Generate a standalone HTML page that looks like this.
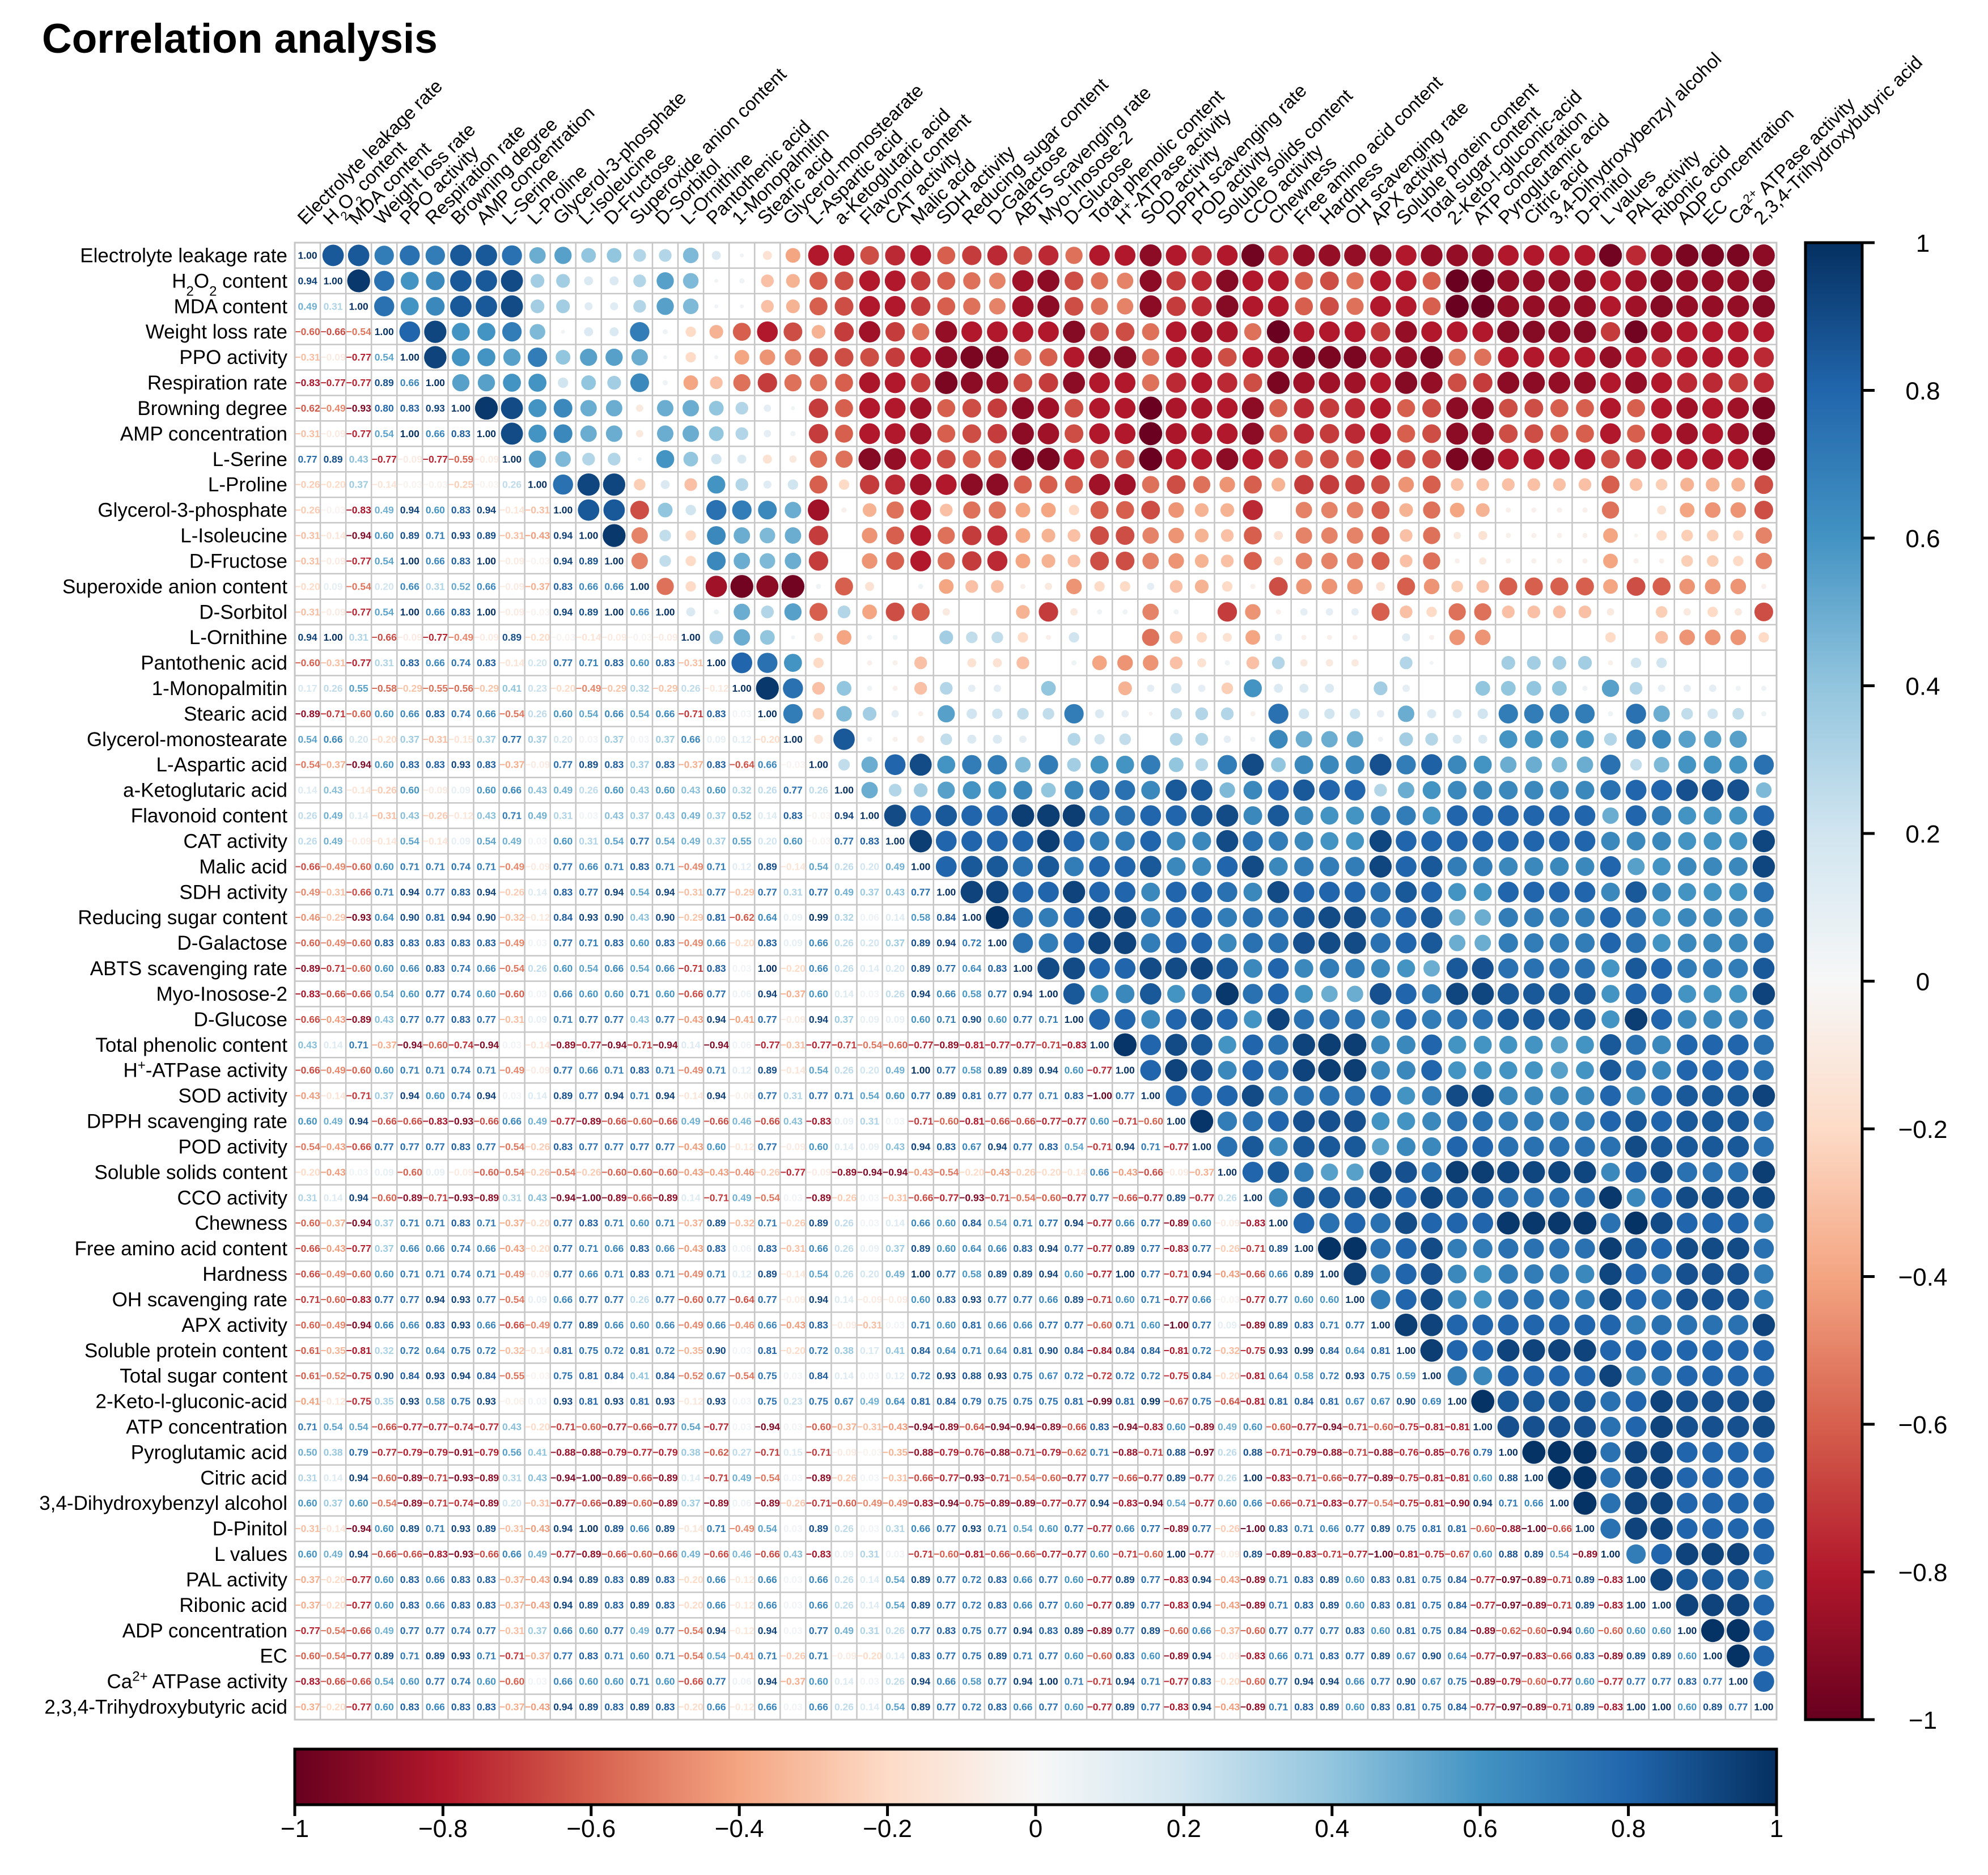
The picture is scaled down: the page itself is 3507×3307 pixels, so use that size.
<!DOCTYPE html>
<html><head><meta charset="utf-8"><title>Correlation analysis</title>
<style>
html,body{margin:0;padding:0;background:#fff;}
#wrap{position:relative;width:3507px;height:3307px;overflow:hidden;background:#fff;}
svg text{font-family:"Liberation Sans",Arial,sans-serif;}
</style></head>
<body>
<div id="wrap">
<svg id="chart" width="3507" height="3307" viewBox="0 0 3507 3307" xmlns="http://www.w3.org/2000/svg">
<defs>
<linearGradient id="gradV" x1="0" y1="1" x2="0" y2="0"></linearGradient>
<linearGradient id="gradH" x1="0" y1="0" x2="1" y2="0"></linearGradient>
</defs>
<text x="74" y="93" font-size="73" font-weight="bold" fill="#000">Correlation analysis</text>
<g id="grid"></g>
<g id="rowlabels"></g>
<g id="collabels"></g>
<g id="cbarV"></g>
<g id="cbarH"></g>
</svg>
</div>
<script>
const labels = ["Electrolyte leakage rate","H_2O_2 content","MDA content","Weight loss rate","PPO activity","Respiration rate","Browning degree","AMP concentration","L-Serine","L-Proline","Glycerol-3-phosphate","L-Isoleucine","D-Fructose","Superoxide anion content","D-Sorbitol","L-Ornithine","Pantothenic acid","1-Monopalmitin","Stearic acid","Glycerol-monostearate","L-Aspartic acid","a-Ketoglutaric acid","Flavonoid content","CAT activity","Malic acid","SDH activity","Reducing sugar content","D-Galactose","ABTS scavenging rate","Myo-Inosose-2","D-Glucose","Total phenolic content","H^+-ATPase activity","SOD activity","DPPH scavenging rate","POD activity","Soluble solids content","CCO activity","Chewness","Free amino acid content","Hardness","OH scavenging rate","APX activity","Soluble protein content","Total sugar content","2-Keto-l-gluconic-acid","ATP concentration","Pyroglutamic acid","Citric acid","3,4-Dihydroxybenzyl alcohol","D-Pinitol","L values","PAL activity","Ribonic acid","ADP concentration","EC","Ca^2+ ATPase activity","2,3,4-Trihydroxybutyric acid"];

const colorbarTicks = [-1,-0.8,-0.6,-0.4,-0.2,0,0.2,0.4,0.6,0.8,1];
const colorbarTickLabels = ["\u22121","\u22120.8","\u22120.6","\u22120.4","\u22120.2","0","0.2","0.4","0.6","0.8","1"];

/* printed coefficients, lower triangle: row i lists columns 1..i-1 */
const lowerValues = [
[],
[0.94],
[0.49,0.31],
[-0.60,-0.66,-0.54],
[-0.31,-0.09,-0.77,0.54],
[-0.83,-0.77,-0.77,0.89,0.66],
[-0.62,-0.49,-0.93,0.80,0.83,0.93],
[-0.31,-0.09,-0.77,0.54,1.00,0.66,0.83],
[0.77,0.89,0.43,-0.77,-0.09,-0.77,-0.59,-0.09],
[-0.26,-0.20,0.37,-0.14,-0.03,-0.03,-0.25,-0.03,0.26],
[-0.26,-0.03,-0.83,0.49,0.94,0.60,0.83,0.94,-0.14,-0.31],
[-0.31,-0.14,-0.94,0.60,0.89,0.71,0.93,0.89,-0.31,-0.43,0.94],
[-0.31,-0.09,-0.77,0.54,1.00,0.66,0.83,1.00,-0.09,-0.03,0.94,0.89],
[-0.20,0.09,-0.54,0.20,0.66,0.31,0.52,0.66,-0.09,-0.37,0.83,0.66,0.66],
[-0.31,-0.09,-0.77,0.54,1.00,0.66,0.83,1.00,-0.09,-0.03,0.94,0.89,1.00,0.66],
[0.94,1.00,0.31,-0.66,-0.09,-0.77,-0.49,-0.09,0.89,-0.20,-0.03,-0.14,-0.09,-0.03,-0.09],
[-0.60,-0.31,-0.77,0.31,0.83,0.66,0.74,0.83,-0.14,0.20,0.77,0.71,0.83,0.60,0.83,-0.31],
[0.17,0.26,0.55,-0.58,-0.29,-0.55,-0.56,-0.29,0.41,0.23,-0.20,-0.49,-0.29,0.32,-0.29,0.26,-0.12],
[-0.89,-0.71,-0.60,0.60,0.66,0.83,0.74,0.66,-0.54,0.26,0.60,0.54,0.66,0.54,0.66,-0.71,0.83,0.03],
[0.54,0.66,0.20,-0.20,0.37,-0.31,-0.15,0.37,0.77,0.37,0.20,0.03,0.37,0.03,0.37,0.66,0.09,0.12,-0.20],
[-0.54,-0.37,-0.94,0.60,0.83,0.83,0.93,0.83,-0.37,-0.09,0.77,0.89,0.83,0.37,0.83,-0.37,0.83,-0.64,0.66,-0.03],
[0.14,0.43,-0.14,-0.26,0.60,-0.09,0.09,0.60,0.66,0.43,0.49,0.26,0.60,0.43,0.60,0.43,0.60,0.32,0.26,0.77, 0.26],
[0.26,0.49,0.14,-0.31,0.43,-0.26,-0.12,0.43,0.71,0.49,0.31,0.03,0.43,0.37,0.43,0.49,0.37,0.52,0.14,0.83, -0.03,0.94],
[0.26,0.49,-0.09,-0.14,0.54,-0.14,0.09,0.54,0.49,0.03,0.60,0.31,0.54,0.77,0.54,0.49,0.37,0.55,0.20,0.60, -0.03,0.77,0.83],
[-0.66,-0.49,-0.60,0.60,0.71,0.71,0.74,0.71,-0.49,-0.09,0.77,0.66,0.71,0.83,0.71,-0.49,0.71,0.12,0.89,-0.14, 0.54,0.26,0.20,0.49],
[-0.49,-0.31,-0.66,0.71,0.94,0.77,0.83,0.94,-0.26,0.14,0.83,0.77,0.94,0.54,0.94,-0.31,0.77,-0.29,0.77,0.31, 0.77,0.49,0.37,0.43,0.77],
[-0.46,-0.29,-0.93,0.64,0.90,0.81,0.94,0.90,-0.32,-0.12,0.84,0.93,0.90,0.43,0.90,-0.29,0.81,-0.62,0.64,0.09, 0.99,0.32,0.06,0.14,0.58,0.84],
[-0.60,-0.49,-0.60,0.83,0.83,0.83,0.83,0.83,-0.49,0.03,0.77,0.71,0.83,0.60,0.83,-0.49,0.66,-0.20,0.83,0.09, 0.66,0.26,0.20,0.37,0.89,0.94,0.72],
[-0.89,-0.71,-0.60,0.60,0.66,0.83,0.74,0.66,-0.54,0.26,0.60,0.54,0.66,0.54,0.66,-0.71,0.83,0.03,1.00,-0.20, 0.66,0.26,0.14,0.20,0.89,0.77,0.64,0.83],
[-0.83,-0.66,-0.66,0.54,0.60,0.77,0.74,0.60,-0.60,0.03,0.66,0.60,0.60,0.71,0.60,-0.66,0.77,0.06,0.94,-0.37, 0.60,0.14,0.03,0.26,0.94,0.66,0.58,0.77,0.94],
[-0.66,-0.43,-0.89,0.43,0.77,0.77,0.83,0.77,-0.31,0.09,0.71,0.77,0.77,0.43,0.77,-0.43,0.94,-0.41,0.77,-0.09, 0.94,0.37,0.09,0.09,0.60,0.71,0.90,0.60,0.77,0.71],
[0.43,0.14,0.71,-0.37,-0.94,-0.60,-0.74,-0.94,0.03,-0.14,-0.89,-0.77,-0.94,-0.71,-0.94,0.14,-0.94,0.06,-0.77,-0.31, -0.77,-0.71,-0.54,-0.60,-0.77,-0.89,-0.81,-0.77,-0.77,-0.71,-0.83],
[-0.66,-0.49,-0.60,0.60,0.71,0.71,0.74,0.71,-0.49,-0.09,0.77,0.66,0.71,0.83,0.71,-0.49,0.71,0.12,0.89,-0.14, 0.54,0.26,0.20,0.49,1.00,0.77,0.58,0.89,0.89,0.94,0.60,-0.77],
[-0.43,-0.14,-0.71,0.37,0.94,0.60,0.74,0.94,0.03,0.14,0.89,0.77,0.94,0.71,0.94,-0.14,0.94,-0.06,0.77,0.31, 0.77,0.71,0.54,0.60,0.77,0.89,0.81,0.77,0.77,0.71,0.83,-1.00,0.77],
[0.60,0.49,0.94,-0.66,-0.66,-0.83,-0.93,-0.66,0.66,0.49,-0.77,-0.89,-0.66,-0.60,-0.66,0.49,-0.66,0.46,-0.66,0.43, -0.83,0.09,0.31,0.03,-0.71,-0.60,-0.81,-0.66,-0.66,-0.77,-0.77,0.60,-0.71,-0.60],
[-0.54,-0.43,-0.66,0.77,0.77,0.77,0.83,0.77,-0.54,-0.26,0.83,0.77,0.77,0.77,0.77,-0.43,0.60,-0.12,0.77,-0.09, 0.60,0.14,0.09,0.43,0.94,0.83,0.67,0.94,0.77,0.83,0.54,-0.71,0.94,0.71,-0.77],
[-0.20,-0.43,0.03,0.09,-0.60,0.09,-0.09,-0.60,-0.54,-0.26,-0.54,-0.26,-0.60,-0.60,-0.60,-0.43,-0.43,-0.46,-0.26,-0.77, -0.09,-0.89,-0.94,-0.94,-0.43,-0.54,-0.20,-0.43,-0.26,-0.20,-0.14,0.66,-0.43,-0.66,-0.09,-0.37],
[0.31,0.14,0.94,-0.60,-0.89,-0.71,-0.93,-0.89,0.31,0.43,-0.94,-1.00,-0.89,-0.66,-0.89,0.14,-0.71,0.49,-0.54,0.03, -0.89,-0.26,0.03,-0.31,-0.66,-0.77,-0.93,-0.71,-0.54,-0.60,-0.77,0.77,-0.66,-0.77,0.89,-0.77,0.26],
[-0.60,-0.37,-0.94,0.37,0.71,0.71,0.83,0.71,-0.37,-0.20,0.77,0.83,0.71,0.60,0.71,-0.37,0.89,-0.32,0.71,-0.26, 0.89,0.26,0.03,0.14,0.66,0.60,0.84,0.54,0.71,0.77,0.94,-0.77,0.66,0.77,-0.89,0.60,-0.09,-0.83],
[-0.66,-0.43,-0.77,0.37,0.66,0.66,0.74,0.66,-0.43,-0.20,0.77,0.71,0.66,0.83,0.66,-0.43,0.83,0.06,0.83,-0.31, 0.66,0.26,0.09,0.37,0.89,0.60,0.64,0.66,0.83,0.94,0.77,-0.77,0.89,0.77,-0.83,0.77,-0.26,-0.71,0.89],
[-0.66,-0.49,-0.60,0.60,0.71,0.71,0.74,0.71,-0.49,-0.09,0.77,0.66,0.71,0.83,0.71,-0.49,0.71,0.12,0.89,-0.14, 0.54,0.26,0.20,0.49,1.00,0.77,0.58,0.89,0.89,0.94,0.60,-0.77,1.00,0.77,-0.71,0.94,-0.43,-0.66,0.66,0.89],
[-0.71,-0.60,-0.83,0.77,0.77,0.94,0.93,0.77,-0.54,0.09,0.66,0.77,0.77,0.26,0.77,-0.60,0.77,-0.64,0.77,-0.09, 0.94,0.14,-0.09,-0.09,0.60,0.83,0.93,0.77,0.77,0.66,0.89,-0.71,0.60,0.71,-0.77,0.66,-0.03,-0.77,0.77,0.60, 0.60],
[-0.60,-0.49,-0.94,0.66,0.66,0.83,0.93,0.66,-0.66,-0.49,0.77,0.89,0.66,0.60,0.66,-0.49,0.66,-0.46,0.66,-0.43, 0.83,-0.09,-0.31,0.03,0.71,0.60,0.81,0.66,0.66,0.77,0.77,-0.60,0.71,0.60,-1.00,0.77,0.09,-0.89,0.89,0.83, 0.71,0.77],
[-0.61,-0.35,-0.81,0.32,0.72,0.64,0.75,0.72,-0.32,-0.14,0.81,0.75,0.72,0.81,0.72,-0.35,0.90,0.03,0.81,-0.20, 0.72,0.38,0.17,0.41,0.84,0.64,0.71,0.64,0.81,0.90,0.84,-0.84,0.84,0.84,-0.81,0.72,-0.32,-0.75,0.93,0.99, 0.84,0.64,0.81],
[-0.61,-0.52,-0.75,0.90,0.84,0.93,0.94,0.84,-0.55,-0.03,0.75,0.81,0.84,0.41,0.84,-0.52,0.67,-0.54,0.75,0.03, 0.84,0.14,0.03,0.12,0.72,0.93,0.88,0.93,0.75,0.67,0.72,-0.72,0.72,0.72,-0.75,0.84,-0.20,-0.81,0.64,0.58, 0.72,0.93,0.75,0.59],
[-0.41,-0.12,-0.75,0.35,0.93,0.58,0.75,0.93,-0.06,0.03,0.93,0.81,0.93,0.81,0.93,-0.12,0.93,0.03,0.75,0.23, 0.75,0.67,0.49,0.64,0.81,0.84,0.79,0.75,0.75,0.75,0.81,-0.99,0.81,0.99,-0.67,0.75,-0.64,-0.81,0.81,0.84, 0.81,0.67,0.67,0.90,0.69],
[0.71,0.54,0.54,-0.66,-0.77,-0.77,-0.74,-0.77,0.43,-0.20,-0.71,-0.60,-0.77,-0.66,-0.77,0.54,-0.77,0.03,-0.94,0.03, -0.60,-0.37,-0.31,-0.43,-0.94,-0.89,-0.64,-0.94,-0.94,-0.89,-0.66,0.83,-0.94,-0.83,0.60,-0.89,0.49,0.60,-0.60,-0.77, -0.94,-0.71,-0.60,-0.75,-0.81,-0.81],
[0.50,0.38,0.79,-0.77,-0.79,-0.79,-0.91,-0.79,0.56,0.41,-0.88,-0.88,-0.79,-0.77,-0.79,0.38,-0.62,0.27,-0.71,0.15, -0.71,-0.09,-0.03,-0.35,-0.88,-0.79,-0.76,-0.88,-0.71,-0.79,-0.62,0.71,-0.88,-0.71,0.88,-0.97,0.26,0.88,-0.71,-0.79, -0.88,-0.71,-0.88,-0.76,-0.85,-0.76,0.79],
[0.31,0.14,0.94,-0.60,-0.89,-0.71,-0.93,-0.89,0.31,0.43,-0.94,-1.00,-0.89,-0.66,-0.89,0.14,-0.71,0.49,-0.54,0.03, -0.89,-0.26,0.03,-0.31,-0.66,-0.77,-0.93,-0.71,-0.54,-0.60,-0.77,0.77,-0.66,-0.77,0.89,-0.77,0.26,1.00,-0.83,-0.71, -0.66,-0.77,-0.89,-0.75,-0.81,-0.81,0.60,0.88],
[0.60,0.37,0.60,-0.54,-0.89,-0.71,-0.74,-0.89,0.20,-0.31,-0.77,-0.66,-0.89,-0.60,-0.89,0.37,-0.89,0.06,-0.89,-0.26, -0.71,-0.60,-0.49,-0.49,-0.83,-0.94,-0.75,-0.89,-0.89,-0.77,-0.77,0.94,-0.83,-0.94,0.54,-0.77,0.60,0.66,-0.66,-0.71, -0.83,-0.77,-0.54,-0.75,-0.81,-0.90,0.94,0.71,0.66],
[-0.31,-0.14,-0.94,0.60,0.89,0.71,0.93,0.89,-0.31,-0.43,0.94,1.00,0.89,0.66,0.89,-0.14,0.71,-0.49,0.54,0.03, 0.89,0.26,0.03,0.31,0.66,0.77,0.93,0.71,0.54,0.60,0.77,-0.77,0.66,0.77,-0.89,0.77,-0.26,-1.00,0.83,0.71, 0.66,0.77,0.89,0.75,0.81,0.81,-0.60,-0.88,-1.00,-0.66],
[0.60,0.49,0.94,-0.66,-0.66,-0.83,-0.93,-0.66,0.66,0.49,-0.77,-0.89,-0.66,-0.60,-0.66,0.49,-0.66,0.46,-0.66,0.43, -0.83,0.09,0.31,0.03,-0.71,-0.60,-0.81,-0.66,-0.66,-0.77,-0.77,0.60,-0.71,-0.60,1.00,-0.77,-0.09,0.89,-0.89,-0.83, -0.71,-0.77,-1.00,-0.81,-0.75,-0.67,0.60,0.88,0.89,0.54,-0.89],
[-0.37,-0.20,-0.77,0.60,0.83,0.66,0.83,0.83,-0.37,-0.43,0.94,0.89,0.83,0.89,0.83,-0.20,0.66,-0.12,0.66,0.03, 0.66,0.26,0.14,0.54,0.89,0.77,0.72,0.83,0.66,0.77,0.60,-0.77,0.89,0.77,-0.83,0.94,-0.43,-0.89,0.71,0.83, 0.89,0.60,0.83,0.81,0.75,0.84,-0.77,-0.97,-0.89,-0.71,0.89,-0.83],
[-0.37,-0.20,-0.77,0.60,0.83,0.66,0.83,0.83,-0.37,-0.43,0.94,0.89,0.83,0.89,0.83,-0.20,0.66,-0.12,0.66,0.03, 0.66,0.26,0.14,0.54,0.89,0.77,0.72,0.83,0.66,0.77,0.60,-0.77,0.89,0.77,-0.83,0.94,-0.43,-0.89,0.71,0.83, 0.89,0.60,0.83,0.81,0.75,0.84,-0.77,-0.97,-0.89,-0.71,0.89,-0.83,1.00],
[-0.77,-0.54,-0.66,0.49,0.77,0.77,0.74,0.77,-0.31,0.37,0.66,0.60,0.77,0.49,0.77,-0.54,0.94,-0.12,0.94,0.03, 0.77,0.49,0.31,0.26,0.77,0.83,0.75,0.77,0.94,0.83,0.89,-0.89,0.77,0.89,-0.60,0.66,-0.37,-0.60,0.77,0.77, 0.77,0.83,0.60,0.81,0.75,0.84,-0.89,-0.62,-0.60,-0.94,0.60,-0.60,0.60,0.60],
[-0.60,-0.54,-0.77,0.89,0.71,0.89,0.93,0.71,-0.71,-0.37,0.77,0.83,0.71,0.60,0.71,-0.54,0.54,-0.41,0.71,-0.26, 0.71,-0.09,-0.20,0.14,0.83,0.77,0.75,0.89,0.71,0.77,0.60,-0.60,0.83,0.60,-0.89,0.94,-0.09,-0.83,0.66,0.71, 0.83,0.77,0.89,0.67,0.90,0.64,-0.77,-0.97,-0.83,-0.66,0.83,-0.89,0.89,0.89,0.60],
[-0.83,-0.66,-0.66,0.54,0.60,0.77,0.74,0.60,-0.60,0.03,0.66,0.60,0.60,0.71,0.60,-0.66,0.77,0.06,0.94,-0.37, 0.60,0.14,0.03,0.26,0.94,0.66,0.58,0.77,0.94,1.00,0.71,-0.71,0.94,0.71,-0.77,0.83,-0.20,-0.60,0.77,0.94, 0.94,0.66,0.77,0.90,0.67,0.75,-0.89,-0.79,-0.60,-0.77,0.60,-0.77,0.77,0.77,0.83,0.77],
[-0.37,-0.20,-0.77,0.60,0.83,0.66,0.83,0.83,-0.37,-0.43,0.94,0.89,0.83,0.89,0.83,-0.20,0.66,-0.12,0.66,0.03, 0.66,0.26,0.14,0.54,0.89,0.77,0.72,0.83,0.66,0.77,0.60,-0.77,0.89,0.77,-0.83,0.94,-0.43,-0.89,0.71,0.83, 0.89,0.60,0.83,0.81,0.75,0.84,-0.77,-0.97,-0.89,-0.71,0.89,-0.83,1.00,1.00,0.60,0.89,0.77]
];

/* circle coefficients, upper triangle: row i lists columns i+1..58 */
const upperValues = [
[.85,.85,.7,.75,.7,.85,.85,.75,.5,.55,.4,.4,.3,.3,.45,.15,.03,-.15,-.4, -.8,-.8,-.65,-.75,-.8,-.6,-.7,-.75,-.65,-.75,-.55,-.8,-.8,-.9,-.8,-.75,-.8,-.97,-.75,-.88,-.88,-.88,-.88,-.8,-.88,-.88,-.88,-.8,-.8,-.8,-.8,-.97,-.75,-.88,-.95,-.95,-.95,-.9],
[.97,.75,.6,.65,.85,.85,.9,.35,.35,.15,.15,.3,.55,.45,.03,.05,-.3,-.35, -.6,-.65,-.8,-.8,-.7,-.6,-.55,-.5,-.85,-.9,-.65,-.55,-.5,-.9,-.7,-.75,-.92,-.8,-.8,-.6,-.65,-.55,-.8,-.8,-.6,-.99,-.99,-.88,-.88,-.88,-.88,-.8,-.85,-.92,-.88,-.88,-.88,-.92],
[.75,.6,.65,.85,.85,.9,.35,.35,.12,.12,.3,.55,.45,.03,.03,-.3,-.35, -.6,-.65,-.8,-.8,-.7,-.6,-.55,-.5,-.85,-.9,-.65,-.55,-.5,-.9,-.7,-.75,-.92,-.8,-.8,-.6,-.65,-.55,-.8,-.8,-.6,-.99,-.99,-.88,-.88,-.88,-.88,-.8,-.85,-.92,-.88,-.88,-.88,-.92],
[.8,.92,.6,.6,.7,.45,.03,.15,.15,.7,.05,-.2,-.35,-.6,-.8,-.65, -.35,-.7,-.85,-.7,-.55,-.88,-.8,-.8,-.8,-.8,-.92,-.65,-.65,-.55,-.8,-.85,-.82,-.55,-.99,-.8,-.8,-.8,-.7,-.88,-.8,-.8,-.8,-.92,-.92,-.9,-.92,-.7,-.97,-.85,-.8,-.8,-.8,-.8],
[.93,.6,.6,.55,.7,.4,.55,.55,.5,.03,-.2,.03,-.4,-.45,-.5, -.65,-.65,-.65,-.7,-.8,-.9,-.95,-.95,-.55,-.6,-.8,-.92,-.92,-.55,-.8,-.8,-.65,-.8,-.85,-.95,-.95,-.95,-.85,-.88,-.95,-.55,-.55,-.8,-.8,-.8,-.8,-.88,-.8,-.75,-.8,-.8,-.8,-.75],
[.55,.55,.6,.6,.2,.4,.35,.65,.05,-.4,-.3,-.55,-.7,-.55, -.55,-.6,-.82,-.8,-.7,-.95,-.9,-.88,-.65,-.7,-.9,-.8,-.8,-.55,-.75,-.8,-.75,-.65,-.95,-.85,-.85,-.85,-.8,-.92,-.88,-.65,-.7,-.9,-.9,-.88,-.88,-.8,-.88,-.8,-.75,-.75,-.7,-.75],
[.97,.9,.6,.65,.5,.5,-.1,.5,.5,.4,.3,.1,.03, -.7,-.6,-.8,-.8,-.85,-.6,-.65,-.7,-.9,-.85,-.65,-.8,-.8,-.99,-.82,-.82,-.8,-.9,-.6,-.75,-.7,-.75,-.8,-.6,-.65,-.9,-.9,-.65,-.65,-.6,-.6,-.8,-.6,-.8,-.85,-.8,-.85,-.95],
[.9,.6,.65,.5,.5,-.1,.5,.5,.4,.3,.1,.05, -.7,-.6,-.8,-.8,-.85,-.6,-.65,-.7,-.9,-.85,-.65,-.8,-.8,-.99,-.82,-.82,-.8,-.9,-.6,-.75,-.7,-.75,-.8,-.6,-.65,-.9,-.9,-.65,-.65,-.6,-.6,-.8,-.6,-.8,-.85,-.8,-.85,-.95],
[.55,.45,.3,.3,.03,.6,.4,.2,.15,-.15,-.1, -.55,-.55,-.92,-.88,-.8,-.65,-.6,-.6,-.95,-.95,-.8,-.65,-.65,-.99,-.8,-.8,-.9,-.8,-.7,-.6,-.65,-.6,-.8,-.65,-.65,-.95,-.95,-.8,-.8,-.8,-.8,-.65,-.75,-.82,-.8,-.82,-.8,-.95],
[.75,.92,.92,-.25,.15,-.3,.6,.3,.12,.2, -.6,-.2,-.7,-.75,-.85,-.8,-.9,-.9,-.6,-.6,-.6,-.85,-.85,-.55,-.65,-.55,-.45,-.6,-.35,-.7,-.7,-.7,-.65,-.45,-.6,-.3,-.3,-.3,-.3,-.3,-.3,-.6,-.3,-.25,-.35,-.35,-.35,-.65],
[.85,.85,-.65,.4,.2,.75,.7,.65,.5, -.85,-.05,-.35,-.55,-.8,-.3,-.55,-.55,-.4,-.4,-.2,-.6,-.6,-.65,-.45,-.35,-.35,-.75,0,-.5,-.5,-.5,-.6,-.35,-.55,-.4,-.35,-.05,-.05,-.05,-.05,-.55,0,-.15,-.4,-.45,-.45,-.65],
[.97,-.5,.25,-.2,.65,.5,.45,.5, -.7,0,-.45,-.6,-.8,-.55,-.7,-.75,-.4,-.35,-.3,-.65,-.65,-.5,-.45,-.35,-.3,-.6,-.15,-.5,-.5,-.5,-.6,-.3,-.55,-.1,-.15,-.05,-.05,-.05,-.05,-.4,-.03,-.2,-.25,-.25,-.2,-.5],
[-.5,.25,-.2,.65,.5,.45,.5, -.7,0,-.45,-.6,-.8,-.55,-.7,-.75,-.4,-.35,-.3,-.65,-.65,-.5,-.45,-.35,-.3,-.6,-.15,-.5,-.5,-.5,-.6,-.3,-.55,-.05,-.1,-.05,-.05,-.05,-.05,-.4,-.05,-.05,-.25,-.25,-.2,-.5],
[-.55,-.2,-.85,-.97,-.9,-.97, .05,-.6,-.15,0,.05,-.4,-.3,-.3,-.05,-.1,-.45,-.2,-.2,.1,-.3,-.35,-.2,-.05,-.65,-.45,-.45,-.45,-.15,-.6,-.45,-.25,-.3,-.6,-.6,-.6,-.6,-.4,-.65,-.6,-.45,-.45,-.45,-.05],
[.15,.05,.5,.3,.55, -.6,.3,-.4,-.65,-.6,-.1,0,0,-.35,-.7,-.1,.05,.05,-.5,.05,0,-.7,-.45,-.05,.1,.1,.1,-.6,-.3,-.2,-.55,-.55,-.3,-.3,-.3,-.3,-.1,0,-.25,-.1,-.2,-.1,-.65],
[.35,.5,.4,.03, -.15,-.4,.05,.05,0,.35,.25,.25,-.2,-.05,.2,0,0,-.55,-.3,-.2,-.15,-.4,.1,-.05,-.05,-.05,0,.12,-.05,-.45,-.45,0,0,0,0,-.2,0,-.3,-.45,-.45,-.45,-.2],
[.8,.75,.6, -.2,0,-.05,-.05,-.3,0,-.15,-.15,-.3,0,.05,-.4,-.45,-.45,-.3,-.15,.05,-.3,.3,-.1,-.1,-.1,0,.3,.03,0,0,.35,.35,.35,.35,-.05,.2,.2,0,0,0,0],
[.97,.75, -.3,.4,.05,-.05,-.3,.3,.1,.1,0,.4,0,0,-.35,.1,.2,.1,-.25,.6,.15,.15,.15,0,.35,.1,0,0,.4,.4,.4,.4,.05,.55,.3,.1,.1,.1,.05,.05],
[.7, -.25,.45,.35,.1,-.05,.55,.2,.2,.25,.25,.7,.15,.1,-.03,.25,.3,.3,-.05,.75,.2,.2,.2,.1,.5,.15,.15,.2,.7,.7,.7,.7,.05,.75,.5,.25,.2,.25,.05],
[-.15,.85,.05,-.05,-.1,.25,.15,.15,.1,0,.3,.2,.25,0,.3,.3,.1,.05,.65,.5,.5,.5,.05,.35,.3,.15,.15,.6,.6,.6,.6,.3,.7,.65,.55,.55,.55,0],
[.25,.5,.8,.9,.6,.7,.7,.45,.7,.35,.6,.6,.7,.4,.3,.7,.9,.4,.65, .65,.65,.88,.7,.82,.65,.6,.5,.5,.45,.5,.75,.25,.45,.6,.6,.6,.75],
[.5,.3,.35,.55,.6,.6,.65,.4,.65,.75,.75,.65,.85,.85,.45,.65,.8,.85, .8,.8,.3,.5,.6,.65,.65,.65,.65,.65,.65,.75,.8,.8,.88,.88,.88,.45],
[.9,.8,.85,.8,.8,.95,.95,.95,.75,.75,.8,.8,.85,.9,.65,.85,.65, .6,.6,.7,.7,.6,.8,.8,.8,.8,.8,.8,.5,.8,.7,.6,.6,.6,.8],
[.95,.8,.8,.8,.8,.95,.8,.7,.7,.8,.65,.65,.9,.75,.7,.65, .6,.6,.92,.8,.8,.8,.8,.8,.8,.8,.8,.65,.65,.65,.6,.6,.6,.92],
[.8,.85,.85,.75,.85,.7,.8,.8,.85,.65,.65,.8,.9,.65,.7, .7,.7,.92,.8,.85,.7,.7,.65,.65,.65,.65,.8,.55,.6,.65,.65,.65,.92],
[.93,.93,.8,.8,.93,.8,.8,.65,.8,.8,.75,.65,.9,.8, .8,.8,.75,.85,.8,.6,.6,.8,.8,.8,.8,.65,.85,.65,.6,.6,.6,.75],
[.99,.75,.7,.8,.93,.93,.7,.8,.8,.7,.75,.75,.85, .9,.9,.75,.8,.85,.5,.5,.7,.7,.7,.7,.8,.75,.6,.65,.65,.65,.7],
[.75,.7,.8,.93,.93,.7,.8,.8,.65,.75,.75,.88, .9,.9,.75,.8,.85,.5,.5,.7,.7,.7,.7,.8,.75,.6,.65,.65,.65,.75],
[.9,.9,.8,.8,.9,.9,.93,.85,.65,.8,.65, .7,.7,.65,.6,.5,.85,.88,.75,.75,.75,.75,.6,.85,.8,.7,.7,.7,.85],
[.85,.6,.65,.85,.6,.75,.97,.75,.8,.6, .5,.5,.88,.8,.7,.92,.92,.85,.85,.85,.85,.6,.8,.8,.6,.6,.6,.93],
[.8,.8,.65,.8,.88,.8,.6,.93,.75, .75,.75,.65,.8,.7,.75,.75,.85,.85,.85,.85,.6,.95,.8,.65,.65,.65,.75],
[.98,.8,.9,.85,.6,.8,.75,.93, .95,.95,.65,.65,.8,.6,.6,.6,.6,.55,.6,.85,.75,.65,.8,.8,.8,.75],
[.8,.93,.88,.65,.8,.75,.93, .95,.95,.65,.65,.8,.6,.6,.6,.6,.55,.6,.85,.75,.65,.8,.8,.8,.75],
[.8,.8,.8,.9,.7,.75, .75,.75,.8,.6,.7,.9,.92,.65,.65,.65,.65,.8,.65,.8,.85,.85,.85,.93],
[.98,.7,.75,.8,.88, .88,.88,.6,.6,.65,.75,.75,.7,.7,.7,.7,.8,.85,.8,.85,.85,.85,.75],
[.75,.85,.65,.85, .85,.85,.55,.65,.65,.8,.8,.75,.75,.75,.75,.75,.9,.85,.85,.85,.85,.75],
[.8,.85,.7, .55,.55,.9,.88,.75,.95,.95,.92,.92,.92,.92,.65,.82,.9,.75,.75,.75,.95],
[.65,.85, .85,.85,.92,.8,.92,.85,.85,.75,.75,.75,.75,.97,.65,.8,.9,.9,.9,.92],
[.8, .75,.8,.75,.9,.8,.8,.8,.97,.97,.97,.97,.75,.99,.9,.8,.8,.8,.7],
[.99,.99,.75,.8,.9,.7,.7,.75,.75,.75,.75,.95,.85,.8,.9,.9,.9,.75],
[.95,.7,.8,.88,.65,.6,.7,.7,.7,.65,.92,.8,.75,.88,.88,.88,.7],
[.7,.8,.9,.65,.6,.75,.75,.75,.7,.92,.8,.75,.88,.88,.88,.7],
[.95,.93,.8,.8,.8,.8,.8,.8,.8,.7,.75,.75,.75,.75,.93],
[.95,.8,.8,.93,.93,.93,.93,.8,.8,.8,.8,.8,.8,.8],
[.7,.65,.8,.8,.8,.8,.93,.7,.75,.8,.8,.8,.8],
[.99,.85,.85,.85,.85,.75,.8,.93,.88,.88,.88,.9],
[.88,.88,.88,.88,.75,.8,.93,.88,.88,.88,.9],
[.99,.99,.99,.75,.93,.93,.8,.8,.8,.8],
[.99,.99,.75,.93,.93,.8,.8,.8,.8],
[.99,.75,.93,.93,.8,.8,.8,.8],
[.75,.93,.93,.8,.8,.8,.8],
[.7,.8,.93,.93,.93,.8],
[.93,.85,.85,.85,.7],
[.93,.93,.93,.8],
[.99,.99,.8],
[.99,.8],
[.8],
[]
];

const NS = "http://www.w3.org/2000/svg";
const N = labels.length;
const X0 = 520, X1 = 3134, Y0 = 428, Y1 = 3033;
const CW = (X1 - X0) / N, CH = (Y1 - Y0) / N;
const xCell = j => X0 + j * CW;
const yCell = i => Y0 + i * CH;

const stops = [[-1,[103,0,31]],[-0.8,[178,24,43]],[-0.6,[214,96,77]],[-0.4,[244,165,130]],[-0.2,[253,219,199]],[0,[247,247,247]],[0.2,[209,229,240]],[0.4,[146,197,222]],[0.6,[67,147,195]],[0.8,[33,102,172]],[1,[5,48,97]]];
function color(v){
  v = Math.max(-1, Math.min(1, v));
  for (let k = 0; k < stops.length - 1; k++){
    const a = stops[k], b = stops[k+1];
    if (v >= a[0] && v <= b[0]){
      const t = (v - a[0]) / (b[0] - a[0]);
      const c = a[1].map((x, m) => Math.round(x + (b[1][m] - x) * t));
      return "rgb(" + c.join(",") + ")";
    }
  }
  return "rgb(5,48,97)";
}
function el(tag, attrs, parent){
  const e = document.createElementNS(NS, tag);
  for (const k in attrs) e.setAttribute(k, attrs[k]);
  parent.appendChild(e);
  return e;
}
function fmt(v){ return v.toFixed(2).replace("-", "\u2212"); }
function richText(t, str, supSize){
  const re = /([_^])([0-9+]+)/g; let last = 0, m;
  while ((m = re.exec(str)) !== null){
    if (m.index > last){ const s = el("tspan", {}, t); s.textContent = str.slice(last, m.index); }
    const sp = el("tspan", {"font-size": supSize, "baseline-shift": m[1] === "_" ? "sub" : "super"}, t);
    sp.textContent = m[2];
    last = re.lastIndex;
  }
  if (last < str.length){ const s = el("tspan", {}, t); s.textContent = str.slice(last); }
}

const grid = document.getElementById("grid");
el("rect", {x: X0, y: Y0, width: X1 - X0, height: Y1 - Y0, fill: "#fff"}, grid);
for (let k = 0; k <= N; k++){
  const gl = el("line", {x1: xCell(k), y1: Y0, x2: xCell(k), y2: Y1, stroke: "#c6c6c6", "stroke-width": 2.5}, grid);
  
  
  const gh = el("line", {x1: X0, y1: yCell(k), x2: X1, y2: yCell(k), stroke: "#c6c6c6", "stroke-width": 2.5}, grid);
  
  
}
for (let i = 0; i < N; i++){
  const cy = yCell(i) + CH / 2;
  const low = lowerValues[i] || [];
  for (let j = 0; j < i; j++){
    const v = (low[j] !== undefined) ? low[j] : 0;
    const t = el("text", {x: xCell(j) + CW / 2, y: cy + 6, "text-anchor": "middle", "font-size": 17.5, "font-weight": "bold", fill: color(v)}, grid);
    
    
    t.textContent = fmt(v);
  }
  const d = el("text", {x: xCell(i) + CW / 2, y: cy + 6, "text-anchor": "middle", "font-size": 17.5, "font-weight": "bold", fill: color(1)}, grid);
  
  
  d.textContent = "1.00";
  const up = upperValues[i] || [];
  for (let j = i + 1; j < N; j++){
    const v = (up[j - i - 1] !== undefined) ? up[j - i - 1] : 0;
    const r = 20.5 * Math.sqrt(Math.abs(v));
    if (r < 0.5) continue;
    const c = el("circle", {cx: xCell(j) + CW / 2, cy: cy, r: r, fill: color(v)}, grid);
    
    
  }
}
el("rect", {x: X0, y: Y0, width: X1 - X0, height: Y1 - Y0, fill: "none", stroke: "#c6c6c6", "stroke-width": 3}, grid);

const rl = document.getElementById("rowlabels");
for (let i = 0; i < N; i++){
  const t = el("text", {x: 507, y: yCell(i) + CH / 2 + 12, "text-anchor": "end", "font-size": 35, fill: "#000"}, rl);
  
  
  richText(t, labels[i], 24);
}
const cl = document.getElementById("collabels");
for (let j = 0; j < N; j++){
  const ax = xCell(j) + CW / 2 - 4, ay = Y0 - 30;
  const t = el("text", {x: ax, y: ay, "font-size": 33, fill: "#000", transform: "rotate(-45 " + ax + " " + ay + ")"}, cl);
  
  
  richText(t, labels[j], 22);
}

const gV = document.getElementById("gradV"), gH = document.getElementById("gradH");
stops.forEach(s => {
  el("stop", {offset: ((s[0] + 1) / 2 * 100) + "%", "stop-color": color(s[0])}, gV);
  el("stop", {offset: ((s[0] + 1) / 2 * 100) + "%", "stop-color": color(s[0])}, gH);
});

const cv = document.getElementById("cbarV");
const VB = {x: 3185, w: 100};
const yVal = v => Y1 - (v + 1) / 2 * (Y1 - Y0);
const rv = el("rect", {x: VB.x, y: Y0, width: VB.w, height: Y1 - Y0, fill: "url(#gradV)", stroke: "#000", "stroke-width": 5}, cv);


colorbarTicks.forEach((v, k) => {
  const tk = el("line", {x1: VB.x + VB.w, x2: VB.x + VB.w + 22, y1: yVal(v), y2: yVal(v), stroke: "#000", "stroke-width": 5}, cv);
  
  
  const tl = el("text", {x: 3392, y: yVal(v) + 16, "text-anchor": "middle", "font-size": 44, fill: "#000"}, cv);
  
  
  tl.textContent = colorbarTickLabels[k];
});

const ch = document.getElementById("cbarH");
const HY0 = 3085, HY1 = 3183;
const xVal = v => X0 + (v + 1) / 2 * (X1 - X0);
const rh = el("rect", {x: X0, y: HY0, width: X1 - X0, height: HY1 - HY0, fill: "url(#gradH)", stroke: "#000", "stroke-width": 5}, ch);


colorbarTicks.forEach((v, k) => {
  const tk = el("line", {x1: xVal(v), x2: xVal(v), y1: HY1, y2: HY1 + 20, stroke: "#000", "stroke-width": 5}, ch);
  
  
  const tl = el("text", {x: xVal(v), y: 3240, "text-anchor": "middle", "font-size": 44, fill: "#000"}, ch);
  
  
  tl.textContent = colorbarTickLabels[k];
});
</script>
</body></html>
